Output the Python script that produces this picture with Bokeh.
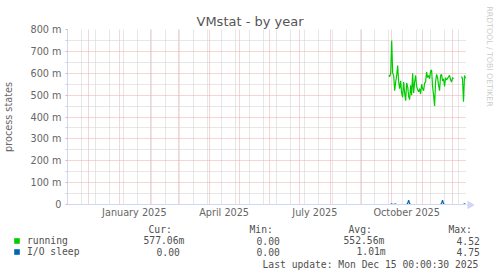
import math
import pandas as pd
from bokeh.plotting import figure
from bokeh.layouts import column, row
from bokeh.models import (Range1d, FixedTicker, Legend, LegendItem, ColumnDataSource)
from bokeh.core.properties import value
from bokeh.embed import file_html
from bokeh.resources import INLINE

# ---------------- data ----------------
title_text = "VMstat - by year"
y_axis_label = "process states"
watermark = "RRDTOOL / TOBI OETIKER"
last_update = "Last update: Mon Dec 15 00:00:30 2025"

x_start = "2024-11-10 00:00:30"
x_end = "2025-12-15 00:00:30"

y_ticks = [0, 100, 200, 300, 400, 500, 600, 700, 800]
y_tick_labels = ["0", "100 m", "200 m", "300 m", "400 m", "500 m", "600 m", "700 m", "800 m"]
y_minor = [50, 150, 250, 350, 450, 550, 650, 750]

x_label_dates = ["2025-01-16", "2025-04-16", "2025-07-16", "2025-10-16"]
x_tick_labels = ["January 2025", "April 2025", "July 2025", "October 2025"]

month_grid = ["2024-12-01", "2025-01-01", "2025-02-01", "2025-03-01", "2025-04-01",
              "2025-05-01", "2025-06-01", "2025-07-01", "2025-08-01", "2025-09-01",
              "2025-10-01", "2025-11-01", "2025-12-01"]
biweek_grid = [str(d.date()) for d in pd.date_range("2024-11-24", "2025-12-14", freq="14D")]

dates = pd.date_range("2025-09-28", "2025-12-14", freq="D")
nan = float("nan")
# running (milli-processes): Sep 28 .. Dec 2, gap Dec 3 .. Dec 9, Dec 10 .. Dec 14
running = [590, 585, 600,
           750, 600, 590, 520, 560, 590, 635, 560, 530, 565, 510, 490, 560, 510, 475, 555,
           540, 495, 480, 545, 500, 600, 510, 560, 590, 540, 525, 515, 530, 505, 550,
           530, 520, 555, 560, 605, 580, 590, 575, 610, 615, 540, 500, 450, 560, 595,
           580, 545, 520, 590, 595, 565, 575, 540, 580, 570, 575, 585, 590, 570, 560,
           580, 575,
           nan, nan, nan, nan, nan, nan, nan,
           585, 575, 470, 590, 577]
io_sleep = [0, 0, 0,
            3, 0, 0, 2, 2, 0, 0, 0, 0, 0, 0, 0, 0, 0, 0, 0,
            5, 20, 4, 0, 0, 0, 0, 0, 0, 0, 0, 0, 0, 0, 0,
            0, 0, 0, 0, 0, 0, 0, 0, 0, 0, 0, 0, 0, 0, 0,
            0, 0, 0, 0, 6, 20, 3, 0, 0, 0, 0, 0, 0, 0, 0,
            0, 0,
            nan, nan, nan, nan, nan, nan, nan,
            0, 0, 0, 3, 0]

series_names = ["running", "I/O sleep"]
series_colors = ["#00cc00", "#0066b3"]
stat_headers = ["Cur:", "Min:", "Avg:", "Max:"]
stat_cur = ["577.06m", "0.00"]
stat_min = ["0.00", "0.00"]
stat_avg = ["552.56m", "1.01m"]
stat_max = ["4.52", "4.75"]

# ---------------- styling ----------------
FONT = "DejaVu Sans"
MONO = "DejaVu Sans Mono"
AXIS_COLOR = "#cfd6f8"
MGRID = "#eeaaaa"
GRID = "#cfcfcf"
TXT = "#666666"
LTXT = "#505050"

W, H = 497, 276
TOP_H = 222          # height of the chart row
MAIN_W = 466         # main figure width (frame right edge)


def ms(s):
    return pd.Timestamp(s).value / 1e6


XS, XE = ms(x_start), ms(x_end)

src = ColumnDataSource(dict(date=dates, running=running, io=io_sleep))

# ---------------- main chart ----------------
p = figure(width=MAIN_W, height=TOP_H, x_axis_type="datetime", output_backend="svg",
           toolbar_location=None, title=title_text,
           x_range=Range1d(XS, XE), y_range=Range1d(0, 800),
           min_border_left=66, min_border_right=0, min_border_top=29, min_border_bottom=18)
p.frame_align = False
p.background_fill_color = "white"
p.border_fill_color = "white"
p.outline_line_color = None

p.title.align = "left"
p.title.offset = 129
p.title.standoff = 2
p.title.text_font = FONT
p.title.text_font_size = "13px"
p.title.text_font_style = "normal"
p.title.text_color = "#555555"

# grids
p.ygrid.grid_line_color = MGRID
p.ygrid.grid_line_dash = "1 1"
p.ygrid.minor_grid_line_color = GRID
p.ygrid.minor_grid_line_dash = "1 1"
p.xgrid.ticker = FixedTicker(ticks=[ms(d) for d in month_grid],
                             minor_ticks=[ms(d) for d in biweek_grid])
p.xgrid.grid_line_color = MGRID
p.xgrid.grid_line_dash = "1 1"
p.xgrid.minor_grid_line_color = GRID
p.xgrid.minor_grid_line_dash = "1 1"

# y axis
ya = p.yaxis[0]
ya.ticker = FixedTicker(ticks=y_ticks, minor_ticks=y_minor)
ya.major_label_overrides = dict(zip(y_ticks, y_tick_labels))
ya.bounds = (0, 832)
ya.axis_line_color = AXIS_COLOR
ya.major_tick_out = 2
ya.major_tick_in = 0
ya.major_tick_line_color = MGRID
ya.minor_tick_out = 2
ya.minor_tick_in = 0
ya.minor_tick_line_color = GRID
ya.major_label_standoff = 4
ya.major_label_text_font = FONT
ya.major_label_text_font_size = "9.7px"
ya.major_label_text_color = TXT
ya.axis_label = y_axis_label
ya.axis_label_text_font = FONT
ya.axis_label_text_font_size = "9.7px"
ya.axis_label_text_font_style = "normal"
ya.axis_label_text_color = TXT
ya.axis_label_standoff = 13

# x axis
xa = p.xaxis[0]
xa.ticker = FixedTicker(ticks=[ms(d) for d in x_label_dates])
xa.major_label_overrides = {ms(d): lab for d, lab in zip(x_label_dates, x_tick_labels)}
xa.axis_line_color = AXIS_COLOR
xa.major_tick_out = 0
xa.major_tick_in = 0
xa.minor_tick_out = 0
xa.minor_tick_in = 0
xa.major_label_standoff = 2
xa.major_label_text_font = FONT
xa.major_label_text_font_size = "9.7px"
xa.major_label_text_color = TXT

# series
p.line(x="date", y="running", source=src, line_color=series_colors[0], line_width=1.2)
p.line(x="date", y="io", source=src, line_color=series_colors[1], line_width=1.2)

# ---------------- right strip: watermark + x-axis arrow ----------------
pw = figure(width=W - MAIN_W, height=TOP_H, output_backend="svg", toolbar_location=None,
            title=None, x_range=Range1d(MAIN_W, W), y_range=Range1d(TOP_H, 0),
            x_axis_location=None, y_axis_location=None, min_border=0)
pw.frame_align = False
pw.outline_line_color = None
pw.grid.visible = False
pw.text(x=[488.5], y=[56], text=[watermark], angle=-math.pi / 2,
        text_font=value(FONT), text_font_size=value("7.8px"), text_color="#cccccc",
        text_align="center", text_baseline="middle")
pw.segment(x0=[MAIN_W], y0=[204.5], x1=[470], y1=[204.5], line_color=AXIS_COLOR, line_width=1)
pw.scatter(x=[469.5], y=[204.5], marker="triangle", angle=-math.pi / 2, size=7,
           fill_color=AXIS_COLOR, line_color=AXIS_COLOR)

# ---------------- legend strip ----------------
LH = H - TOP_H
pl = figure(width=W, height=LH, output_backend="svg", toolbar_location=None,
            title=None, x_range=Range1d(0, W), y_range=Range1d(H, TOP_H),
            x_axis_location=None, y_axis_location=None, min_border=0)
pl.frame_align = False
pl.outline_line_color = None
pl.grid.visible = False

swatches = [pl.quad(left=[nan], right=[nan], top=[nan], bottom=[nan], fill_color=c, line_color=None)
            for c in series_colors]
legend = Legend(items=[LegendItem(label=value(n), renderers=[r]) for n, r in zip(series_names, swatches)],
                location=(13, H - 256.5), orientation="vertical",
                glyph_width=7, glyph_height=7, spacing=0, padding=0, margin=0,
                label_standoff=7, label_height=11, label_width=10,
                label_text_font=MONO, label_text_font_size="9.7px", label_text_color=LTXT,
                label_text_baseline="middle",
                background_fill_alpha=0, border_line_color=None)
pl.add_layout(legend, "center")

tx, ty, tt = [], [], []
for h, cx in zip(stat_headers, [148, 249, 348, 448]):
    tx.append(cx); ty.append(228.5); tt.append(h)
rows_y = [240, 251]
cur_x = [143, 156]
avg_x = [343, 356]
for i in range(2):
    for cx, t in [(cur_x[i], stat_cur[i]), (256, stat_min[i]), (avg_x[i], stat_avg[i]), (456, stat_max[i])]:
        tx.append(cx); ty.append(rows_y[i]); tt.append(t)
tx.append(262); ty.append(263.5); tt.append(last_update)
pl.text(x=tx, y=ty, text=tt, text_font=value(MONO), text_font_size=value("9.7px"),
        text_color=LTXT, text_align="left", text_baseline="middle")

layout = column(row(p, pw, spacing=0), pl, spacing=0)
open("out.html", "w").write(file_html(layout, INLINE))
